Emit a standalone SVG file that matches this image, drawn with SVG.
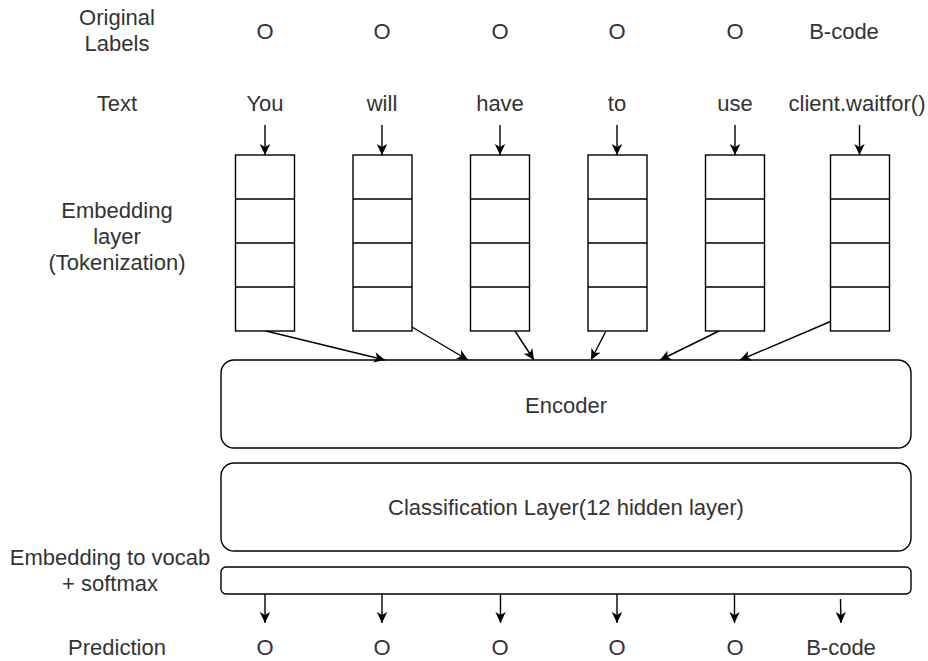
<svg xmlns="http://www.w3.org/2000/svg" width="928" height="661" viewBox="0 0 928 661">
<defs>
<style>
text{font-family:"Liberation Sans",Arial,sans-serif;font-size:22px;fill:#333;text-anchor:middle}
.box{fill:#fff;stroke:#000;stroke-width:1.4}
.ln{fill:none;stroke:#000;stroke-width:1.4}
.cn{fill:none;stroke:#000;stroke-width:1.4;marker-end:url(#ah)}
</style>
<marker id="ah" markerUnits="userSpaceOnUse" markerWidth="12" markerHeight="12" viewBox="0 0 12 12" refX="11" refY="6" orient="auto">
<path d="M0,0.8 L11,6 L0,11.2 L3,6 Z" fill="#000"/>
</marker>
</defs>
<rect width="928" height="661" fill="#fff"/>
<g id="row-labels">
<text x="117" y="25">Original</text>
<text x="117" y="51">Labels</text>
<text x="117" y="111">Text</text>
<text x="117" y="218">Embedding</text>
<text x="117" y="244">layer</text>
<text x="117" y="270">(Tokenization)</text>
<text x="110" y="565">Embedding to vocab</text>
<text x="110" y="591">+ softmax</text>
<text x="117" y="655">Prediction</text>
</g>
<g id="original-labels">
<text x="265" y="39">O</text>
<text x="382" y="39">O</text>
<text x="500" y="39">O</text>
<text x="617" y="39">O</text>
<text x="735" y="39">O</text>
<text x="844" y="39">B-code</text>
</g>
<g id="tokens">
<text x="265" y="111">You</text>
<text x="382" y="111">will</text>
<text x="500" y="111">have</text>
<text x="617" y="111">to</text>
<text x="735" y="111">use</text>
<text x="857" y="111">client.waitfor()</text>
</g>
<g id="emb1"><rect class="box" x="235.5" y="155" width="59" height="176"/><path class="ln" d="M235.5,199H294.5M235.5,243H294.5M235.5,287H294.5"/></g>
<g id="emb2"><rect class="box" x="353" y="155" width="59" height="176"/><path class="ln" d="M353,199H412M353,243H412M353,287H412"/></g>
<g id="emb3"><rect class="box" x="470.5" y="155" width="59" height="176"/><path class="ln" d="M470.5,199H529.5M470.5,243H529.5M470.5,287H529.5"/></g>
<g id="emb4"><rect class="box" x="588" y="155" width="59" height="176"/><path class="ln" d="M588,199H647M588,243H647M588,287H647"/></g>
<g id="emb5"><rect class="box" x="705.5" y="155" width="59" height="176"/><path class="ln" d="M705.5,199H764.5M705.5,243H764.5M705.5,287H764.5"/></g>
<g id="emb6"><rect class="box" x="830.5" y="155" width="59" height="176"/><path class="ln" d="M830.5,199H889.5M830.5,243H889.5M830.5,287H889.5"/></g>
<g id="encoder"><rect class="box" x="221" y="360" width="690" height="88" rx="13"/><text x="566" y="413">Encoder</text></g>
<g id="classification"><rect class="box" x="221" y="463" width="690" height="88" rx="13"/><text x="566" y="515">Classification Layer(12 hidden layer)</text></g>
<g id="vocab"><rect class="box" x="221" y="567" width="690" height="27" rx="5"/></g>
<g id="predictions">
<text x="265" y="655">O</text>
<text x="382" y="655">O</text>
<text x="500" y="655">O</text>
<text x="617" y="655">O</text>
<text x="735" y="655">O</text>
<text x="841" y="655">B-code</text>
</g>
<g id="connectors">
<path class="cn" d="M265,125V155"/>
<path class="cn" d="M382,125V155"/>
<path class="cn" d="M500,125V155"/>
<path class="cn" d="M617,125V155"/>
<path class="cn" d="M735,125V155"/>
<path class="cn" d="M859.5,125V155"/>
<path class="cn" d="M266,331L385,360"/>
<path class="cn" d="M412,327L468,360"/>
<path class="cn" d="M515,331L534,360"/>
<path class="cn" d="M606,331L591,360"/>
<path class="cn" d="M719,331L660,360"/>
<path class="cn" d="M830.5,321.5L740,360"/>
<path class="cn" d="M265,594V623"/>
<path class="cn" d="M382,594V623"/>
<path class="cn" d="M500.5,594V623"/>
<path class="cn" d="M617,594V623"/>
<path class="cn" d="M734.5,594V623"/>
<path class="cn" d="M840.5,599L841,623"/>
</g>
</svg>
